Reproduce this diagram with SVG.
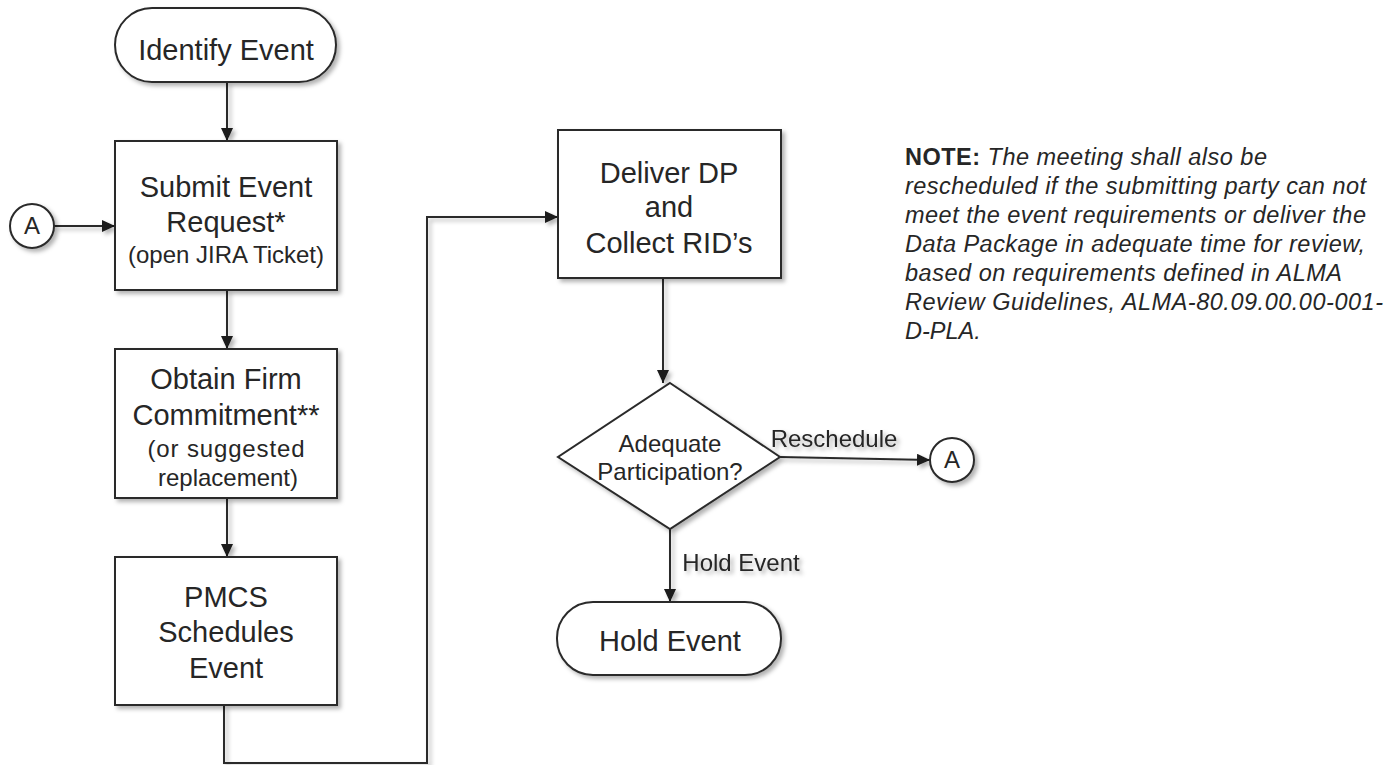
<svg xmlns="http://www.w3.org/2000/svg" width="1399" height="765" viewBox="0 0 1399 765">
  <style>
    .shape { fill: #ffffff; stroke: #2a2a2a; stroke-width: 2; }
    .conn { fill: none; stroke: #2a2a2a; stroke-width: 2; }
    .t { font-family: "Liberation Sans", Arial, sans-serif; fill: #262626; text-anchor: middle; }
    .big { font-size: 29px; }
    .mid { font-size: 24px; }
    .note { font-family: "Liberation Sans", Arial, sans-serif; font-size: 23.5px; fill: #262626; font-style: italic; }
    .bold { font-weight: bold; font-style: normal; }
  </style>
  <defs>
    <filter id="sh" x="-10%" y="-10%" width="130%" height="130%">
      <feDropShadow dx="3" dy="3" stdDeviation="2" flood-color="#000" flood-opacity="0.3"/>
    </filter>
    <marker id="arr" markerUnits="userSpaceOnUse" markerWidth="14" markerHeight="12" refX="13" refY="6" orient="auto">
      <path d="M0,0 L13,6 L0,12 Z" fill="#1a1a1a"/>
    </marker>
  </defs>
  <rect width="1399" height="765" fill="#ffffff"/>

  <g id="connectors" filter="url(#sh)">
    <line class="conn" x1="227" y1="82" x2="227" y2="141" marker-end="url(#arr)"/>
    <line class="conn" x1="54" y1="226" x2="115" y2="226" marker-end="url(#arr)"/>
    <line class="conn" x1="227" y1="290" x2="227" y2="349" marker-end="url(#arr)"/>
    <line class="conn" x1="227" y1="498" x2="227" y2="557" marker-end="url(#arr)"/>
    <polyline class="conn" points="224,705 224,763 427,763 427,217 558,217" marker-end="url(#arr)"/>
    <line class="conn" x1="663" y1="278" x2="663" y2="383" marker-end="url(#arr)"/>
    <line class="conn" x1="780" y1="457" x2="930" y2="460" marker-end="url(#arr)"/>
    <line class="conn" x1="670" y1="529" x2="670" y2="602" marker-end="url(#arr)"/>
    <text class="t mid" x="834" y="447">Reschedule</text>
    <text class="t mid" x="741" y="571">Hold Event</text>
  </g>

  <g id="identify-event">
    <rect class="shape" filter="url(#sh)" x="115" y="8" width="221" height="74" rx="37" ry="37"/>
    <text class="t big" x="226" y="60">Identify Event</text>
  </g>

  <g id="connector-a-left">
    <circle class="shape" filter="url(#sh)" cx="32" cy="226" r="22"/>
    <text class="t mid" x="32" y="234">A</text>
  </g>

  <g id="submit-event">
    <rect class="shape" filter="url(#sh)" x="115" y="141" width="222" height="149"/>
    <text class="t big" x="226" y="197">Submit Event</text>
    <text class="t big" x="226" y="232">Request*</text>
    <text class="t mid" x="226" y="263">(open JIRA Ticket)</text>
  </g>

  <g id="obtain-commitment">
    <rect class="shape" filter="url(#sh)" x="115" y="349" width="222" height="149"/>
    <text class="t big" x="226" y="389">Obtain Firm</text>
    <text class="t big" x="226" y="425">Commitment**</text>
    <text class="t mid" x="226" y="457" textLength="157" lengthAdjust="spacing">(or  suggested</text>
    <text class="t mid" x="228" y="486">replacement)</text>
  </g>

  <g id="pmcs-schedules">
    <rect class="shape" filter="url(#sh)" x="115" y="557" width="222" height="148"/>
    <text class="t big" x="226" y="607">PMCS</text>
    <text class="t big" x="226" y="642">Schedules</text>
    <text class="t big" x="226" y="678">Event</text>
  </g>

  <g id="deliver-dp">
    <rect class="shape" filter="url(#sh)" x="558" y="130" width="223" height="148"/>
    <text class="t big" x="669" y="183">Deliver DP</text>
    <text class="t big" x="669" y="217">and</text>
    <text class="t big" x="669" y="253">Collect RID’s</text>
  </g>

  <g id="adequate-participation">
    <polygon class="shape" filter="url(#sh)" points="670,383 780,457 670,529 558,457"/>
    <text class="t mid" x="670" y="452">Adequate</text>
    <text class="t mid" x="670" y="480">Participation?</text>
  </g>

  <g id="connector-a-right">
    <circle class="shape" filter="url(#sh)" cx="952" cy="460" r="22"/>
    <text class="t mid" x="952" y="468">A</text>
  </g>

  <g id="hold-event">
    <rect class="shape" filter="url(#sh)" x="557" y="602" width="224" height="73" rx="36" ry="36"/>
    <text class="t big" x="670" y="651">Hold Event</text>
  </g>

  <g id="note">
    <text class="note" x="905" y="165" textLength="362" lengthAdjust="spacing"><tspan class="bold">NOTE:</tspan> The meeting shall also be</text>
    <text class="note" x="905" y="194" textLength="461" lengthAdjust="spacing">rescheduled if the submitting party can not</text>
    <text class="note" x="905" y="223" textLength="461" lengthAdjust="spacing">meet the event requirements or deliver the</text>
    <text class="note" x="905" y="252" textLength="460" lengthAdjust="spacing">Data Package in adequate time for review,</text>
    <text class="note" x="905" y="281" textLength="437" lengthAdjust="spacing">based on requirements defined in ALMA</text>
    <text class="note" x="905" y="310" textLength="478" lengthAdjust="spacing">Review Guidelines, ALMA-80.09.00.00-001-</text>
    <text class="note" x="905" y="339">D-PLA.</text>
  </g>
</svg>
